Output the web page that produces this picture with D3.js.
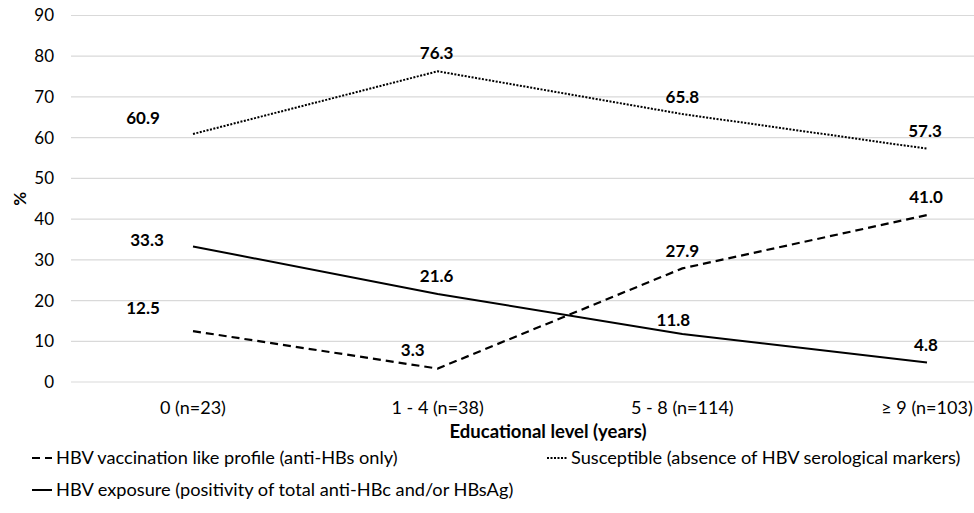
<!DOCTYPE html>
<html>
<head>
<meta charset="utf-8">
<script src="https://cdn.jsdelivr.net/npm/d3@7"></script>
<style>
  body { margin: 0; background: #fff; }
  svg text { font-family: Lato, "Open Sans", sans-serif; fill: #000; }
</style>
</head>
<body>
<div id="chart"></div>
<script>
const categories = ["0 (n=23)", "1 - 4 (n=38)", "5 - 8 (n=114)", "\u2265 9 (n=103)"];
const vaccination = [12.5, 3.3, 27.9, 41.0];
const susceptible = [60.9, 76.3, 65.8, 57.3];
const exposure = [33.3, 21.6, 11.8, 4.8];
const yTicks = [0, 10, 20, 30, 40, 50, 60, 70, 80, 90];
const seriesNames = [
    "HBV vaccination like profile (anti-HBs only)",
    "Susceptible (absence of HBV serological markers)",
    "HBV exposure (positivity of total anti-HBc and/or HBsAg)",
];

const width = 974,
    height = 513;

const svg = d3
    .select("#chart")
    .append("svg")
    .attr("width", width)
    .attr("height", height);

const xScale = d3.scalePoint().domain(categories).range([193, 927]);
const yScale = d3.scaleLinear().domain([0, 90]).range([382, 15.5]);

// gridlines
svg.append("g")
    .selectAll("line")
    .data(yTicks)
    .join("line")
    .attr("x1", 71)
    .attr("x2", width)
    .attr("y1", (d) => yScale(d))
    .attr("y2", (d) => yScale(d))
    .attr("stroke", "#d9d9d9")
    .attr("stroke-width", 1.2);

// y tick labels
svg.append("g")
    .selectAll("text")
    .data(yTicks)
    .join("text")
    .attr("x", 54)
    .attr("y", (d) => yScale(d))
    .attr("dy", "0.35em")
    .attr("text-anchor", "end")
    .style("font-size", "17px")
    .text((d) => d);

// x tick labels
svg.append("g")
    .selectAll("text")
    .data(categories)
    .join("text")
    .attr("x", (d) => xScale(d))
    .attr("y", 408)
    .attr("dy", "0.35em")
    .attr("text-anchor", "middle")
    .style("font-size", "18px")
    .text((d) => d);

svg.append("text")
    .attr("x", 548)
    .attr("y", 432)
    .attr("dy", "0.35em")
    .attr("text-anchor", "middle")
    .style("font-size", "18.5px")
    .style("font-weight", "bold")
    .text("Educational level (years)");

svg.append("text")
    .attr("transform", `translate(20, ${yScale(45)}) rotate(-90)`)
    .attr("dy", "0.35em")
    .attr("text-anchor", "middle")
    .style("font-size", "17px")
    .style("font-weight", "bold")
    .text("%");

const series = [
    { name: seriesNames[0], values: vaccination, dash: "8,5", width: 2.2 },
    { name: seriesNames[1], values: susceptible, dash: "2,1.5", width: 2 },
    { name: seriesNames[2], values: exposure, dash: null, width: 2 },
];

// label offsets (dx, dy) per point, relative to the data point
const labelOffsets = [
    [[-50, -23], [-25, -19], [0, -17], [-1, -18]],
    [[-50, -16], [-1, -18], [0, -17], [-2, -18]],
    [[-46, -6], [-1, -18], [-9, -14], [-1, -17]],
];

const line = d3
    .line()
    .x((d, i) => xScale(categories[i]))
    .y((d) => yScale(d));

series.forEach((s, si) => {
    svg.append("path")
        .datum(s.values)
        .attr("fill", "none")
        .attr("stroke", "#000")
        .attr("stroke-width", s.width)
        .attr("stroke-dasharray", s.dash)
        .attr("d", line);

    svg.append("g")
        .selectAll("text")
        .data(s.values)
        .join("text")
        .attr("x", (d, i) => xScale(categories[i]) + labelOffsets[si][i][0])
        .attr("y", (d, i) => yScale(d) + labelOffsets[si][i][1])
        .attr("dy", "0.35em")
        .attr("text-anchor", "middle")
        .style("font-size", "17px")
        .style("font-weight", "bold")
        .text((d) => d.toFixed(1));
});

// legend
const legendItems = [
    { s: series[0], x: 32, y: 458 },
    { s: series[1], x: 547, y: 458 },
    { s: series[2], x: 32, y: 490 },
];

const legend = svg
    .append("g")
    .selectAll("g")
    .data(legendItems)
    .join("g")
    .attr("transform", (d) => `translate(${d.x}, ${d.y})`);

legend
    .append("line")
    .attr("x1", 0)
    .attr("x2", 20)
    .attr("stroke", "#000")
    .attr("stroke-width", (d) => d.s.width)
    .attr("stroke-dasharray", (d) => d.s.dash);

legend
    .append("text")
    .attr("x", 24)
    .attr("dy", "0.35em")
    .style("font-size", "18.2px")
    .text((d) => d.s.name);
</script>
</body>
</html>
